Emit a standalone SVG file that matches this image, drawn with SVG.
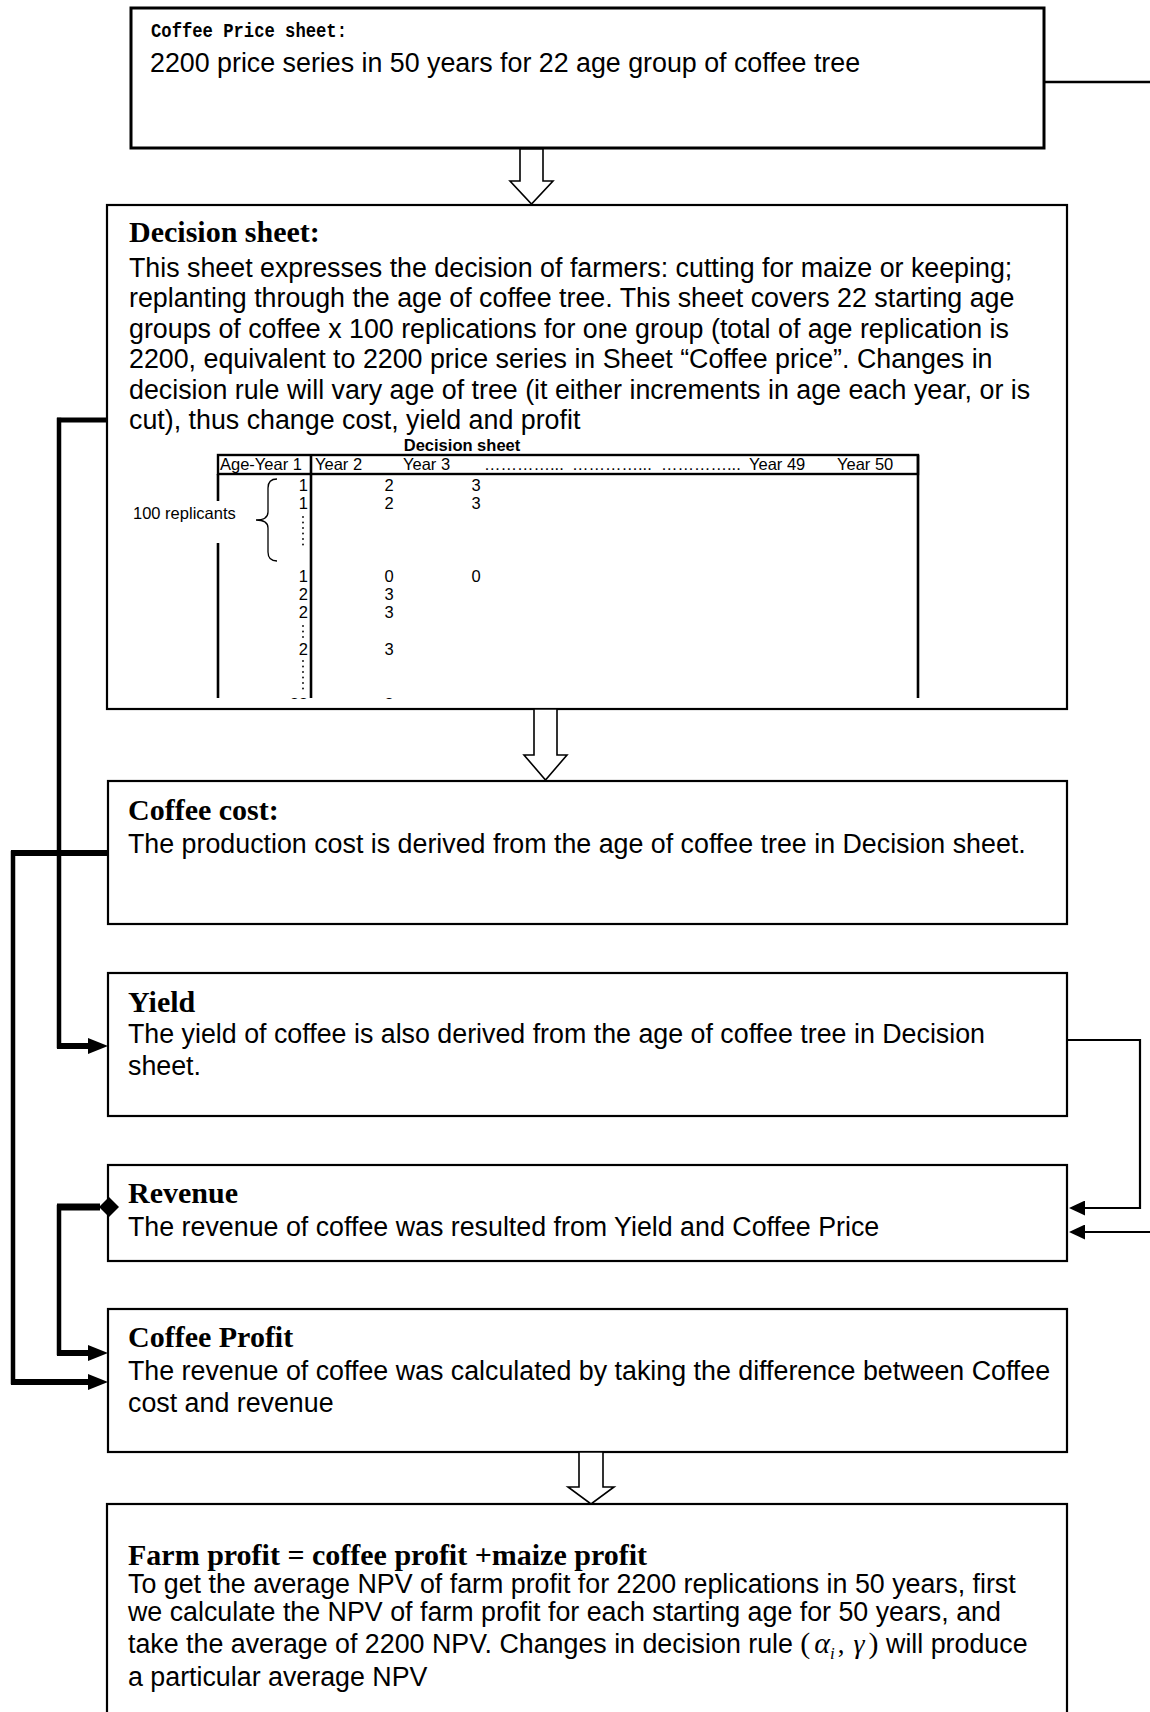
<svg xmlns="http://www.w3.org/2000/svg" width="1150" height="1712" viewBox="0 0 1150 1712">
<style>
.box{fill:#fff;stroke:#000;stroke-width:2.2}
.box1{fill:#fff;stroke:#000;stroke-width:3}
.t{font-family:"Liberation Sans",Arial,sans-serif;font-size:26.8px;fill:#000}
.h{font-family:"Liberation Serif","Times New Roman",serif;font-weight:bold;font-size:30px;fill:#000}
.mono{font-family:"Liberation Mono","Courier New",monospace;font-weight:bold;font-size:20px;fill:#000}
.tb{font-family:"Liberation Sans",Arial,sans-serif;font-size:16.5px;fill:#000}
.tbb{font-family:"Liberation Sans",Arial,sans-serif;font-size:16.5px;font-weight:bold;fill:#000}
.ser{font-family:"Liberation Serif","Times New Roman",serif}
.blk{fill:#fff;stroke:#000;stroke-width:1.6}
.tl{stroke:#000;stroke-width:2.6;fill:none}
.v{stroke:#000;stroke-width:4.5;fill:none;stroke-linecap:square}
.hz{stroke:#000;stroke-width:6;fill:none}
.thin{stroke:#000;stroke-width:2.2;fill:none}
.dots{stroke:#000;stroke-width:1.8;stroke-linecap:round;stroke-dasharray:0 5.5;fill:none}
</style>
<defs>
<marker id="ah" viewBox="0 0 20 16" refX="0" refY="8" markerWidth="20" markerHeight="16" markerUnits="userSpaceOnUse" orient="auto"><path d="M0,0 L20,8 L0,16 z" fill="#000"/></marker>
<marker id="ahs" viewBox="0 0 16 15" refX="0" refY="7.5" markerWidth="16" markerHeight="15" markerUnits="userSpaceOnUse" orient="auto"><path d="M0,0 L16,7.5 L0,15 z" fill="#000"/></marker>
<clipPath id="tblclip"><rect x="200" y="440" width="740" height="259"/></clipPath>
</defs>
<rect width="1150" height="1712" fill="#fff"/>

<g id="coffee-price-sheet">
<rect class="box1" x="131" y="8" width="913" height="140"/>
<text class="mono" x="151" y="37" textLength="196" lengthAdjust="spacingAndGlyphs">Coffee Price sheet:</text>
<text class="t" x="150" y="72">2200 price series in 50 years for 22 age group of coffee tree</text>
</g>

<g id="decision-sheet">
<rect class="box" x="107" y="205" width="960" height="504"/>
<text class="h" x="129" y="242">Decision sheet:</text>
<text class="t" x="129" y="277">This sheet expresses the decision of farmers: cutting for maize or keeping;</text>
<text class="t" x="129" y="307.4">replanting through the age of coffee tree. This sheet covers 22 starting age</text>
<text class="t" x="129" y="337.8">groups of coffee x 100 replications for one group (total of age replication is</text>
<text class="t" x="129" y="368.2">2200, equivalent to 2200 price series in Sheet “Coffee price”. Changes in</text>
<text class="t" x="129" y="398.6">decision rule will vary age of tree (it either increments in age each year, or is</text>
<text class="t" x="129" y="429">cut), thus change cost, yield and profit</text>
<g id="decision-table">
<text class="tbb" x="462" y="451" text-anchor="middle">Decision sheet</text>
<rect x="218" y="455" width="700" height="19" fill="none" stroke="#000" stroke-width="2.4"/>
<line class="tl" x1="218" y1="474" x2="218" y2="501"/>
<line class="tl" x1="218" y1="543" x2="218" y2="698"/>
<line class="tl" x1="311" y1="455" x2="311" y2="698"/>
<line class="tl" x1="918" y1="455" x2="918" y2="698"/>
<text class="tb" x="220" y="470">Age-Year 1</text>
<text class="tb" x="315" y="470">Year 2</text>
<text class="tb" x="403" y="470">Year 3</text>
<text class="tb" x="484" y="470">&#8230;&#8230;&#8230;&#8230;...</text>
<text class="tb" x="572" y="470">&#8230;&#8230;&#8230;&#8230;...</text>
<text class="tb" x="661" y="470">&#8230;&#8230;&#8230;&#8230;...</text>
<text class="tb" x="749" y="470">Year 49</text>
<text class="tb" x="837" y="470">Year 50</text>
<text class="tb" x="133" y="519">100 replicants</text>
<path d="M277,479 q-9,0 -9,9 v24 q0,8 -12,8 q12,0 12,8 v24 q0,9 9,9" fill="none" stroke="#000" stroke-width="1.3"/>
<g text-anchor="end">
<text class="tb" x="308" y="491">1</text>
<text class="tb" x="308" y="509">1</text>
<text class="tb" x="308" y="582">1</text>
<text class="tb" x="308" y="600">2</text>
<text class="tb" x="308" y="618">2</text>
<text class="tb" x="308" y="655">2</text>
</g>
<g text-anchor="middle">
<text class="tb" x="389" y="491">2</text>
<text class="tb" x="476" y="491">3</text>
<text class="tb" x="389" y="509">2</text>
<text class="tb" x="476" y="509">3</text>
<text class="tb" x="389" y="582">0</text>
<text class="tb" x="476" y="582">0</text>
<text class="tb" x="389" y="600">3</text>
<text class="tb" x="389" y="618">3</text>
<text class="tb" x="389" y="655">3</text>
</g>
<line class="dots" x1="303" y1="517" x2="303" y2="545"/>
<line class="dots" x1="303" y1="626" x2="303" y2="640"/>
<line class="dots" x1="303" y1="661" x2="303" y2="690"/>
<g clip-path="url(#tblclip)">
<text class="tb" x="308" y="710" text-anchor="end">22</text>
<text class="tb" x="389" y="710" text-anchor="middle">3</text>
</g>
</g>
</g>

<g id="coffee-cost">
<rect class="box" x="108" y="781" width="959" height="143"/>
<text class="h" x="128" y="820">Coffee cost:</text>
<text class="t" x="128" y="853">The production cost is derived from the age of coffee tree in Decision sheet.</text>
</g>

<g id="yield">
<rect class="box" x="108" y="973" width="959" height="143"/>
<text class="h" x="128" y="1012">Yield</text>
<text class="t" x="128" y="1043">The yield of coffee is also derived from the age of coffee tree in Decision</text>
<text class="t" x="128" y="1075">sheet.</text>
</g>

<g id="revenue">
<rect class="box" x="108" y="1165" width="959" height="96"/>
<text class="h" x="128" y="1203">Revenue</text>
<text class="t" x="128" y="1236">The revenue of coffee was resulted from Yield and Coffee Price</text>
</g>

<g id="coffee-profit">
<rect class="box" x="108" y="1309" width="959" height="143"/>
<text class="h" x="128" y="1347">Coffee Profit</text>
<text class="t" x="128" y="1380">The revenue of coffee was calculated by taking the difference between Coffee</text>
<text class="t" x="128" y="1412">cost and revenue</text>
</g>

<g id="farm-profit">
<rect class="box" x="107" y="1504" width="960" height="230"/>
<text class="h" x="128" y="1565">Farm profit = coffee profit +maize profit</text>
<text class="t" x="128" y="1593">To get the average NPV of farm profit for 2200 replications in 50 years, first</text>
<text class="t" x="128" y="1621">we calculate the NPV of farm profit for each starting age for 50 years, and</text>
<text class="t" x="128" y="1653">take the average of 2200 NPV. Changes in decision rule <tspan class="ser" font-size="30">(</tspan><tspan class="ser" font-style="italic" font-size="30" dx="4">α</tspan><tspan class="ser" font-style="italic" font-size="17" dy="6">i</tspan><tspan class="ser" dy="-6" dx="3">,</tspan><tspan class="ser" font-style="italic" font-size="28" dx="9">γ</tspan><tspan class="ser" font-size="30" dx="4">)</tspan> will produce</text>
<text class="t" x="128" y="1686">a particular average NPV</text>
</g>

<g id="connectors">
<line class="tl" x1="1044" y1="82" x2="1150" y2="82"/>
<line class="hz" x1="57" y1="420" x2="107" y2="420" style="stroke-width:5"/>
<line class="v" x1="59" y1="420" x2="59" y2="1046"/>
<line class="hz" x1="57" y1="1046" x2="88" y2="1046" marker-end="url(#ah)"/>
<line class="hz" x1="11" y1="853" x2="108" y2="853"/>
<line class="v" x1="13" y1="853" x2="13" y2="1382"/>
<line class="hz" x1="11" y1="1382" x2="88" y2="1382" marker-end="url(#ah)"/>
<line class="hz" x1="57" y1="1207" x2="100" y2="1207" style="stroke-width:7"/>
<polygon points="99,1207 109,1197 119,1207 109,1217" fill="#000"/>
<line class="v" x1="59" y1="1207" x2="59" y2="1353"/>
<line class="hz" x1="57" y1="1353" x2="88" y2="1353" marker-end="url(#ah)"/>
<path class="thin" d="M1067,1040 H1140 V1208 H1085" marker-end="url(#ahs)"/>
<line class="thin" x1="1150" y1="1232" x2="1085" y2="1232" marker-end="url(#ahs)"/>
<polygon class="blk" points="520,149 543,149 543,181 553,181 531.5,204 510,181 520,181"/>
<polygon class="blk" points="534,709 557,709 557,755 567,755 545.5,780 524,755 534,755"/>
<polygon class="blk" points="579,1452 603,1452 603,1487 614,1487 591,1504 568,1487 579,1487"/>
</g>
</svg>
